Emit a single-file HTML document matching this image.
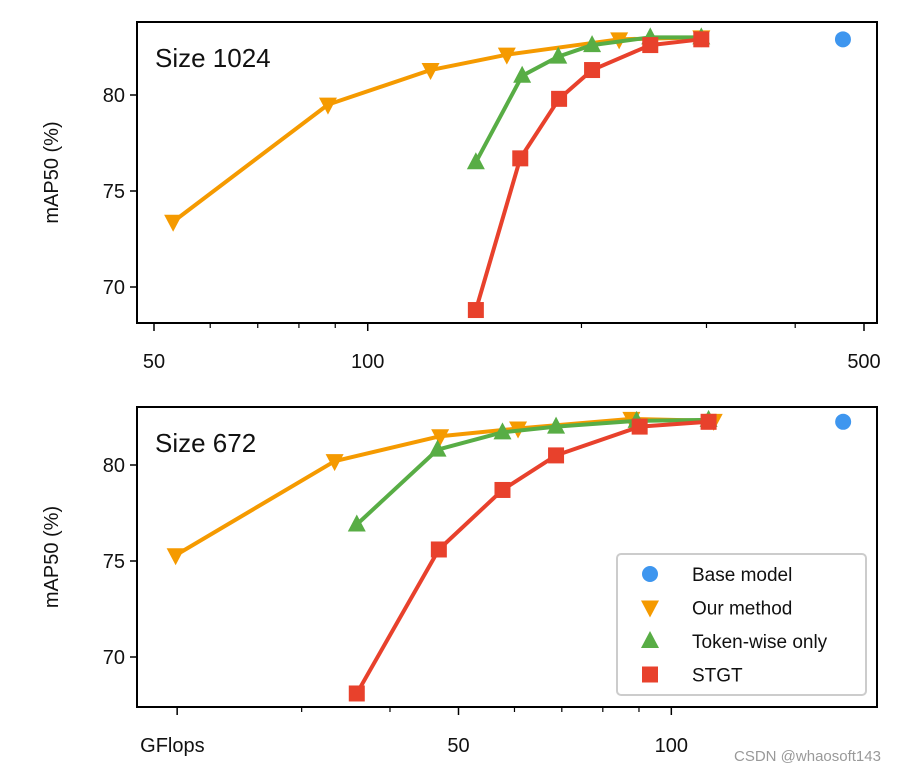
<!DOCTYPE html>
<html><head><meta charset="utf-8"><style>
body{margin:0;background:#fff;width:910px;height:770px;overflow:hidden;font-family:"Liberation Sans","DejaVu Sans",sans-serif}
svg text{font-family:"Liberation Sans","DejaVu Sans",sans-serif;fill:#111}
</style></head><body>
<svg id="chart" width="910" height="770" xmlns="http://www.w3.org/2000/svg"></svg>
<script>
// Top panel (size 1024)
const topBaseX = [467];
const topBaseY = [82.9];
const topOursX = [53.2, 87.9, 122.6, 157, 226, 295];
const topOursY = [73.4, 79.5, 81.3, 82.1, 82.9, 83.0];
const topTokenX = [142, 165, 185.5, 207, 250, 295];
const topTokenY = [76.5, 81.0, 82.0, 82.6, 83.0, 83.0];
const topStgtX = [142, 164, 186, 207, 250, 295];
const topStgtY = [68.8, 76.7, 79.8, 81.3, 82.6, 82.9];
const topXTicks = [50, 100, 500];
const topXTickLabels = ["50", "100", "500"];
const topXMinor = [60, 70, 80, 90, 200, 300, 400];
// Bottom panel (size 672)
const botBaseX = [175];
const botBaseY = [82.25];
const botOursX = [19.9, 33.4, 47.1, 60.7, 87.8, 114.8];
const botOursY = [75.3, 80.2, 81.5, 81.9, 82.4, 82.3];
const botTokenX = [35.9, 46.7, 57.7, 68.7, 89.3, 112.9];
const botTokenY = [76.9, 80.8, 81.7, 82.0, 82.3, 82.35];
const botStgtX = [35.9, 46.9, 57.7, 68.7, 90.2, 112.9];
const botStgtY = [68.1, 75.6, 78.7, 80.5, 82.0, 82.25];
const botXTicks = [20, 50, 100];
const botXTickLabels = ["GFlops", "50", "100"];
const botXMinor = [30, 40, 60, 70, 80, 90];
const yTicks = [70, 75, 80];

const C = {orange:"#F59A00", green:"#58AD45", red:"#E8412C", blue:"#3E96EF"};
const svg = document.getElementById('chart');
const NS = "http://www.w3.org/2000/svg";
function mk(tag, attrs, parent){const e=document.createElementNS(NS,tag);for(const k in attrs)e.setAttribute(k,attrs[k]);(parent||svg).appendChild(e);return e;}

function panel(cfg){
  const g = mk('g', {});
  
  
  const xs = v => cfg.x0 + Math.log10(v / cfg.xref) * cfg.dec;
  const ys = v => cfg.y80 - (v - 80) * 19.2;
  function series(X, Y, color, marker, nm){
    const sg = mk('g', {}, g);
    
    
    if (X.length > 1){
      const pl = mk('polyline', {points: X.map((x,i)=>xs(x)+','+ys(Y[i])).join(' '), fill:'none', stroke:color, 'stroke-width':4, 'stroke-linejoin':'round'}, sg);
      
      
    }
    X.forEach((x,i)=>{
      const cx = xs(x), cy = ys(Y[i]); let m;
      if (marker==='circle') m = mk('circle',{cx:cx,cy:cy,r:8,fill:color},sg);
      else if (marker==='square') m = mk('rect',{x:cx-8,y:cy-8,width:16,height:16,fill:color},sg);
      else if (marker==='down') m = mk('polygon',{points:`${cx-9},${cy-7} ${cx+9},${cy-7} ${cx},${cy+10}`,fill:color},sg);
      else m = mk('polygon',{points:`${cx-9},${cy+7} ${cx+9},${cy+7} ${cx},${cy-10}`,fill:color},sg);
      
      
    });
  }
  series(cfg.oursX, cfg.oursY, C.orange, 'down', 'our-method-series');
  series(cfg.tokX, cfg.tokY, C.green, 'up', 'token-wise-series');
  series(cfg.stgtX, cfg.stgtY, C.red, 'square', 'stgt-series');
  series(cfg.baseX, cfg.baseY, C.blue, 'circle', 'base-model-series');
  const frame = mk('rect', {x:cfg.L, y:cfg.T, width:cfg.R-cfg.L, height:cfg.B-cfg.T, fill:'none', stroke:'#000', 'stroke-width':2}, g);
  
  
  yTicks.forEach(v=>{
    const y = ys(v);
    mk('line',{x1:cfg.L-7,x2:cfg.L,y1:y,y2:y,stroke:'#000','stroke-width':1.5},g);
    const t = mk('text',{x:cfg.L-12,y:y+7,'text-anchor':'end','font-size':20},g);
    t.textContent = v;
    
    
  });
  cfg.ticks.forEach((v,i)=>{
    const x = xs(v);
    mk('line',{x1:x,x2:x,y1:cfg.B,y2:cfg.B+8,stroke:'#000','stroke-width':1.5},g);
    const t = mk('text',{x: i===0&&cfg.firstLeft ? x-37 : x, y:cfg.B+45,'text-anchor': i===0&&cfg.firstLeft ? 'start':'middle','font-size':20},g);
    t.textContent = cfg.tickLabels[i];
    
    
  });
  cfg.minor.forEach(v=>{
    const x = xs(v);
    mk('line',{x1:x,x2:x,y1:cfg.B,y2:cfg.B+5,stroke:'#000','stroke-width':1.2},g);
  });
  const yl = mk('text',{x:0,y:0,transform:`translate(58,${(cfg.T+cfg.B)/2}) rotate(-90)`,'text-anchor':'middle','font-size':20},g);
  yl.textContent = 'mAP50 (%)';
  
  
  const tt = mk('text',{x:155,y:cfg.T+45,'font-size':26},g);
  tt.textContent = cfg.title;
  
  
}

panel({name:'top-panel', L:137, R:877, T:22, B:323, x0:154, xref:50, dec:710, y80:95,
  oursX:topOursX, oursY:topOursY, tokX:topTokenX, tokY:topTokenY, stgtX:topStgtX, stgtY:topStgtY,
  baseX:topBaseX, baseY:topBaseY, ticks:topXTicks, tickLabels:topXTickLabels, minor:topXMinor, title:'Size 1024'});
panel({name:'bottom-panel', L:137, R:877, T:407, B:707, x0:458.5, xref:50, dec:707, y80:465,
  oursX:botOursX, oursY:botOursY, tokX:botTokenX, tokY:botTokenY, stgtX:botStgtX, stgtY:botStgtY,
  baseX:botBaseX, baseY:botBaseY, ticks:botXTicks, tickLabels:botXTickLabels, minor:botXMinor, title:'Size 672', firstLeft:true});

const lg = mk('g', {});


mk('rect',{x:617,y:554,width:249,height:141,rx:4,fill:'#fff',stroke:'#ccc','stroke-width':2},lg);
const legendNames = ["Base model","Our method","Token-wise only","STGT"];
const legendMarkers = ['circle','down','up','square'];
const legendColors = [C.blue, C.orange, C.green, C.red];
legendNames.forEach((n,i)=>{
  const cy = 574 + i*33.5, cx = 650;
  const e = mk('g',{},lg);
  
  
  const col = legendColors[i], m = legendMarkers[i];
  if (m==='circle') mk('circle',{cx:cx,cy:cy,r:8,fill:col},e);
  else if (m==='square') mk('rect',{x:cx-8,y:cy-8,width:16,height:16,fill:col},e);
  else if (m==='down') mk('polygon',{points:`${cx-9},${cy-7} ${cx+9},${cy-7} ${cx},${cy+10}`,fill:col},e);
  else mk('polygon',{points:`${cx-9},${cy+7} ${cx+9},${cy+7} ${cx},${cy-10}`,fill:col},e);
  const t = mk('text',{x:692,y:cy+7,'font-size':19},e);
  t.textContent = n;
});
const wm = mk('text',{x:734,y:761,'font-size':15});
wm.setAttribute('style','fill:#999');
wm.textContent = 'CSDN @whaosoft143';


</script>
</body></html>
